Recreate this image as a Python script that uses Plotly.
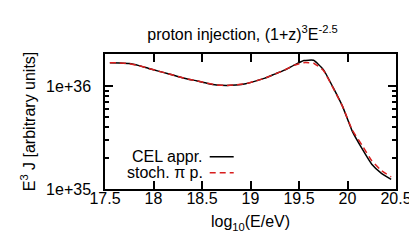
import plotly.graph_objects as go

# log10(E/eV)
log_e = [17.55, 17.65, 17.75, 17.85, 17.95, 18.05, 18.15, 18.25, 18.35, 18.45,
         18.55, 18.65, 18.75, 18.85, 18.95, 19.05, 19.15, 19.25, 19.35, 19.45,
         19.55, 19.65, 19.75, 19.85, 19.95, 20.05, 20.15, 20.25, 20.35, 20.45]

# E^3 J, CEL approximation
cel = [1.683e36, 1.671e36, 1.648e36, 1.574e36, 1.479e36, 1.393e36, 1.315e36, 1.236e36,
       1.169e36, 1.119e36, 1.064e36, 1.023e36, 1.012e36, 1.023e36, 1.052e36, 1.114e36,
       1.191e36, 1.303e36, 1.422e36, 1.592e36, 1.762e36, 1.774e36, 1.449e36, 9.73e35,
       6.30e35, 3.62e35, 2.46e35, 1.74e35, 1.42e35, 1.24e35]

# E^3 J, stochastic pion production
stoch = [1.683e36, 1.671e36, 1.648e36, 1.574e36, 1.479e36, 1.393e36, 1.315e36, 1.236e36,
         1.169e36, 1.119e36, 1.064e36, 1.023e36, 1.012e36, 1.023e36, 1.052e36, 1.114e36,
         1.191e36, 1.303e36, 1.422e36, 1.592e36, 1.683e36, 1.663e36, 1.422e36, 9.62e35,
         6.30e35, 3.72e35, 2.66e35, 1.88e35, 1.51e35, 1.31e35]

x_ticks = [17.5, 18, 18.5, 19, 19.5, 20, 20.5]
x_tick_labels = ["17.5", "18", "18.5", "19", "19.5", "20", "20.5"]
y_ticks = [1e35, 1e36]
y_tick_labels = ["1e+35", "1e+36"]
y_minor = [2e35, 3e35, 4e35, 5e35, 6e35, 7e35, 8e35, 9e35, 2e36]

series_names = ["CEL appr.", "stoch. π p."]
series_colors = ["#000000", "#d81e1e"]
series_dash = ["solid", "6px,4px"]

FONT = "Liberation Sans, Arial, sans-serif"
FS = 16

fig = go.Figure()
for yv, nm, col, ds in zip([cel, stoch], series_names, series_colors, series_dash):
    fig.add_trace(go.Scatter(x=log_e, y=yv, mode="lines", name=nm,
                             line=dict(color=col, width=1.5, dash=ds, shape="spline", smoothing=0.4),
                             showlegend=False))

# manual gnuplot-style key: text then line sample
key_y = [0.2387, 0.1205]
for ky, nm, col, ds in zip(key_y, series_names, series_colors, series_dash):
    fig.add_annotation(xref="paper", yref="paper", x=0.3426, y=ky, text=nm,
                       showarrow=False, xanchor="right", yanchor="middle",
                       font=dict(family=FONT, size=FS, color="#000"))
    fig.add_shape(type="line", xref="paper", yref="paper", x0=0.3598, x1=0.4423,
                  y0=ky, y1=ky, line=dict(color=col, width=1.5, dash=ds))

fig.update_layout(
    width=417, height=249,
    margin=dict(l=97, r=29, t=46, b=68),
    paper_bgcolor="white", plot_bgcolor="white",
    font=dict(family=FONT, size=FS, color="#000"),
    title=dict(text="proton injection, (1+z)<sup>3</sup>E<sup>-2.5</sup>",
               x=0.5624, xanchor="center", y=0.895, yanchor="middle",
               font=dict(family=FONT, size=FS)),
)
fig.update_xaxes(
    range=[17.5, 20.5], tickvals=x_ticks, ticktext=x_tick_labels,
    showline=True, linecolor="#000", linewidth=1.5, mirror="ticks",
    ticks="inside", ticklen=8, tickwidth=1.5, tickcolor="#000",
    showgrid=False, zeroline=False, ticklabelstandoff=-6,
    title=dict(text="log<sub>10</sub>(E/eV)", standoff=10, font=dict(size=FS)),
)
fig.update_yaxes(
    type="log", range=[35, 36.31], tickvals=y_ticks, ticktext=y_tick_labels,
    showline=True, linecolor="#000", linewidth=1.5, mirror="ticks",
    ticks="inside", ticklen=8, tickwidth=1.5, tickcolor="#000",
    minor=dict(tickvals=y_minor, ticks="inside", ticklen=4, tickwidth=1.5, tickcolor="#000"),
    showgrid=False, zeroline=False, ticklabelstandoff=9,
    title=dict(text="E<sup>3</sup> J [arbitrary units]", standoff=7, font=dict(size=FS)),
)

fig.write_html("out.html")
